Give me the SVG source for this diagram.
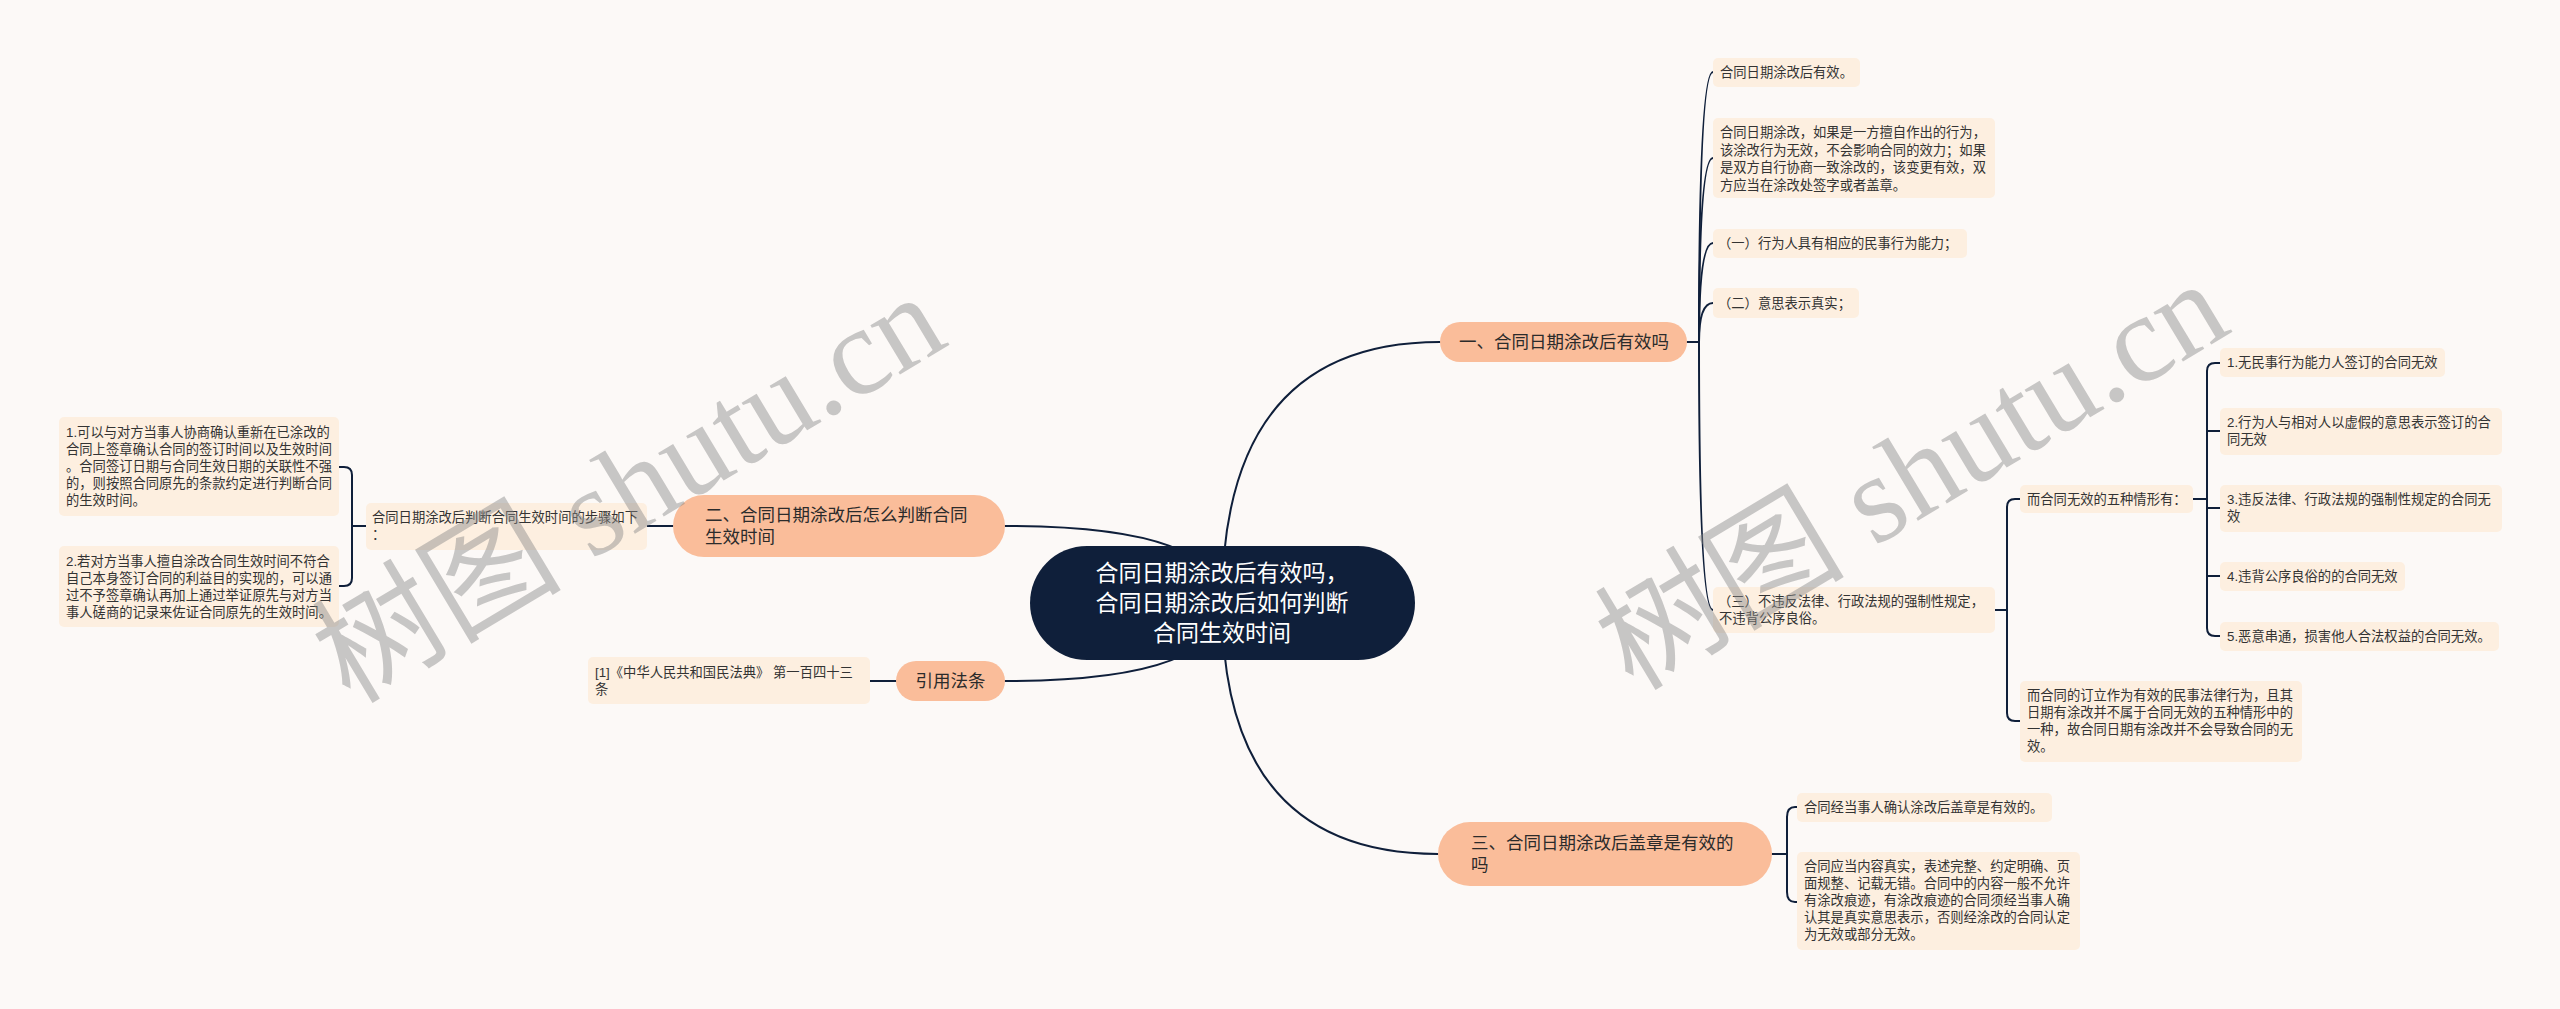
<svg xmlns="http://www.w3.org/2000/svg" width="2560" height="1009" viewBox="0 0 2560 1009">
<style>
.bg{fill:#fcf9f7}
.ln{fill:none;stroke:#0f1f3a;stroke-width:2;stroke-linecap:round}
.root{fill:#0f1f3a}
.rt{fill:#ffffff;font-family:"Liberation Sans","Noto Sans CJK SC",sans-serif;font-size:23px}
.br{fill:#fabd9a}
.bt{fill:#2b2b2b;font-family:"Liberation Sans","Noto Sans CJK SC",sans-serif;font-size:17.5px}
.lf{fill:#fdefe0}
.lt{fill:#333333;font-family:"Liberation Sans","Noto Sans CJK SC",sans-serif;font-size:13.3px}
.wm{fill:#888888;fill-opacity:0.45;font-family:"Liberation Serif","Noto Sans CJK SC",serif;font-size:125px}
</style>
<rect class="bg" x="0" y="0" width="2560" height="1009"/>

<g id="connectors">
  <path class="ln" d="M1222,603 Q1222,342 1440,342"/>
  <path class="ln" d="M1222,603 Q1222,854 1438,854"/>
  <path class="ln" d="M1222,603 Q1222,526 1005,526"/>
  <path class="ln" d="M1222,603 Q1222,681 1005,681"/>
  <!-- branch 1 -->
  <path class="ln" d="M1687,342 H1699"/>
  <path class="ln" d="M1699,342 Q1699,72 1713,72"/>
  <path class="ln" d="M1699,342 Q1699,158 1713,158"/>
  <path class="ln" d="M1699,342 Q1699,243 1713,243"/>
  <path class="ln" d="M1699,342 Q1699,303 1713,303"/>
  <path class="ln" d="M1699,342 Q1699,610 1713,610"/>
  <!-- (三) children -->
  <path class="ln" d="M1995,610 H2007"/>
  <path class="ln" d="M2020,499 H2015 Q2007,499 2007,507 V713 Q2007,721 2015,721 H2020"/>
  <!-- five cases -->
  <path class="ln" d="M2193,499 H2207"/>
  <path class="ln" d="M2220,363 H2215 Q2207,363 2207,371 V628 Q2207,636 2215,636 H2220"/>
  <path class="ln" d="M2207,431 H2220"/>
  <path class="ln" d="M2207,508 H2220"/>
  <path class="ln" d="M2207,576 H2220"/>
  <!-- branch 3 -->
  <path class="ln" d="M1772,854 H1787"/>
  <path class="ln" d="M1797,807 H1795 Q1787,807 1787,817 V892 Q1787,902 1795,902 H1797"/>
  <!-- branch 2 -->
  <path class="ln" d="M673,526 H647"/>
  <path class="ln" d="M366,526 H352"/>
  <path class="ln" d="M339,467 H344 Q352,467 352,475 V578 Q352,586 344,586 H339"/>
  <!-- citation -->
  <path class="ln" d="M896,681 H870"/>
</g>

<g id="root">
  <rect class="root" x="1030" y="546" width="385" height="114" rx="57"/>
  <text class="rt" x="1222" y="581" text-anchor="middle">合同日期涂改后有效吗，</text>
  <text class="rt" x="1222" y="611" text-anchor="middle">合同日期涂改后如何判断</text>
  <text class="rt" x="1222" y="641" text-anchor="middle">合同生效时间</text>
</g>

<g id="b1">
  <rect class="br" x="1440" y="322" width="247" height="40" rx="20"/>
  <text class="bt" x="1459" y="348">一、合同日期涂改后有效吗</text>
</g>
<g id="b1-1">
  <rect class="lf" x="1713" y="58" width="147" height="29" rx="5"/>
  <text class="lt" x="1720" y="77">合同日期涂改后有效。</text>
</g>
<g id="b1-2">
  <rect class="lf" x="1713" y="118" width="282" height="80" rx="5"/>
  <text class="lt" x="1720" y="137">合同日期涂改，如果是一方擅自作出的行为，</text>
  <text class="lt" x="1720" y="154.5">该涂改行为无效，不会影响合同的效力；如果</text>
  <text class="lt" x="1720" y="172">是双方自行协商一致涂改的，该变更有效，双</text>
  <text class="lt" x="1720" y="189.5">方应当在涂改处签字或者盖章。</text>
</g>
<g id="b1-3">
  <rect class="lf" x="1713" y="229" width="254" height="29" rx="5"/>
  <text class="lt" x="1718" y="248">（一）行为人具有相应的民事行为能力；</text>
</g>
<g id="b1-4">
  <rect class="lf" x="1713" y="288" width="146" height="30" rx="5"/>
  <text class="lt" x="1718" y="308">（二）意思表示真实；</text>
</g>
<g id="b1-5">
  <rect class="lf" x="1713" y="587" width="282" height="46" rx="5"/>
  <text class="lt" x="1718" y="606">（三）不违反法律、行政法规的强制性规定，</text>
  <text class="lt" x="1719" y="623">不违背公序良俗。</text>
</g>
<g id="b1-5-1">
  <rect class="lf" x="2020" y="485" width="173" height="28" rx="5"/>
  <text class="lt" x="2027" y="504">而合同无效的五种情形有：</text>
</g>
<g id="b1-5-2">
  <rect class="lf" x="2020" y="681" width="282" height="81" rx="5"/>
  <text class="lt" x="2027" y="700">而合同的订立作为有效的民事法律行为，且其</text>
  <text class="lt" x="2027" y="717">日期有涂改并不属于合同无效的五种情形中的</text>
  <text class="lt" x="2027" y="734">一种，故合同日期有涂改并不会导致合同的无</text>
  <text class="lt" x="2027" y="751">效。</text>
</g>
<g id="c1">
  <rect class="lf" x="2220" y="348" width="225" height="29" rx="5"/>
  <text class="lt" x="2227" y="367">1.无民事行为能力人签订的合同无效</text>
</g>
<g id="c2">
  <rect class="lf" x="2220" y="408" width="282" height="47" rx="5"/>
  <text class="lt" x="2227" y="427">2.行为人与相对人以虚假的意思表示签订的合</text>
  <text class="lt" x="2227" y="444">同无效</text>
</g>
<g id="c3">
  <rect class="lf" x="2220" y="485" width="282" height="47" rx="5"/>
  <text class="lt" x="2227" y="504">3.违反法律、行政法规的强制性规定的合同无</text>
  <text class="lt" x="2227" y="521">效</text>
</g>
<g id="c4">
  <rect class="lf" x="2220" y="562" width="185" height="29" rx="5"/>
  <text class="lt" x="2227" y="581">4.违背公序良俗的的合同无效</text>
</g>
<g id="c5">
  <rect class="lf" x="2220" y="622" width="279" height="29" rx="5"/>
  <text class="lt" x="2227" y="641">5.恶意串通，损害他人合法权益的合同无效。</text>
</g>

<g id="b3">
  <rect class="br" x="1438" y="822" width="334" height="64" rx="32"/>
  <text class="bt" x="1471" y="849">三、合同日期涂改后盖章是有效的</text>
  <text class="bt" x="1471" y="871">吗</text>
</g>
<g id="b3-1">
  <rect class="lf" x="1797" y="793" width="255" height="29" rx="5"/>
  <text class="lt" x="1804" y="812">合同经当事人确认涂改后盖章是有效的。</text>
</g>
<g id="b3-2">
  <rect class="lf" x="1797" y="852" width="283" height="98" rx="5"/>
  <text class="lt" x="1804" y="871">合同应当内容真实，表述完整、约定明确、页</text>
  <text class="lt" x="1804" y="888">面规整、记载无错。合同中的内容一般不允许</text>
  <text class="lt" x="1804" y="905">有涂改痕迹，有涂改痕迹的合同须经当事人确</text>
  <text class="lt" x="1804" y="922">认其是真实意思表示，否则经涂改的合同认定</text>
  <text class="lt" x="1804" y="939">为无效或部分无效。</text>
</g>

<g id="b2">
  <rect class="br" x="673" y="495" width="332" height="62" rx="31"/>
  <text class="bt" x="705" y="521">二、合同日期涂改后怎么判断合同</text>
  <text class="bt" x="705" y="543">生效时间</text>
</g>
<g id="b2-1">
  <rect class="lf" x="366" y="503" width="281" height="47" rx="5"/>
  <text class="lt" x="372" y="522">合同日期涂改后判断合同生效时间的步骤如下</text>
  <text class="lt" x="372" y="539">：</text>
</g>
<g id="b2-1-1">
  <rect class="lf" x="59" y="417" width="280" height="99" rx="5"/>
  <text class="lt" x="66" y="437">1.可以与对方当事人协商确认重新在已涂改的</text>
  <text class="lt" x="66" y="454">合同上签章确认合同的签订时间以及生效时间</text>
  <text class="lt" x="66" y="471">。合同签订日期与合同生效日期的关联性不强</text>
  <text class="lt" x="66" y="488">的，则按照合同原先的条款约定进行判断合同</text>
  <text class="lt" x="66" y="505">的生效时间。</text>
</g>
<g id="b2-1-2">
  <rect class="lf" x="59" y="546" width="280" height="81" rx="5"/>
  <text class="lt" x="66" y="566">2.若对方当事人擅自涂改合同生效时间不符合</text>
  <text class="lt" x="66" y="583">自己本身签订合同的利益目的实现的，可以通</text>
  <text class="lt" x="66" y="600">过不予签章确认再加上通过举证原先与对方当</text>
  <text class="lt" x="66" y="617">事人磋商的记录来佐证合同原先的生效时间。</text>
</g>

<g id="cite">
  <rect class="br" x="896" y="661" width="109" height="40" rx="20"/>
  <text class="bt" x="950.5" y="687" text-anchor="middle">引用法条</text>
</g>
<g id="cite-1">
  <rect class="lf" x="588" y="657" width="282" height="47" rx="5"/>
  <text class="lt" x="595" y="677">[1]《中华人民共和国民法典》 第一百四十三</text>
  <text class="lt" x="595" y="694">条</text>
</g>

<g id="watermarks">
  <text class="wm" transform="translate(350,705) rotate(-31)">树图 shutu.cn</text>
  <text class="wm" transform="translate(1633,692) rotate(-31)">树图 shutu.cn</text>
</g>
</svg>
